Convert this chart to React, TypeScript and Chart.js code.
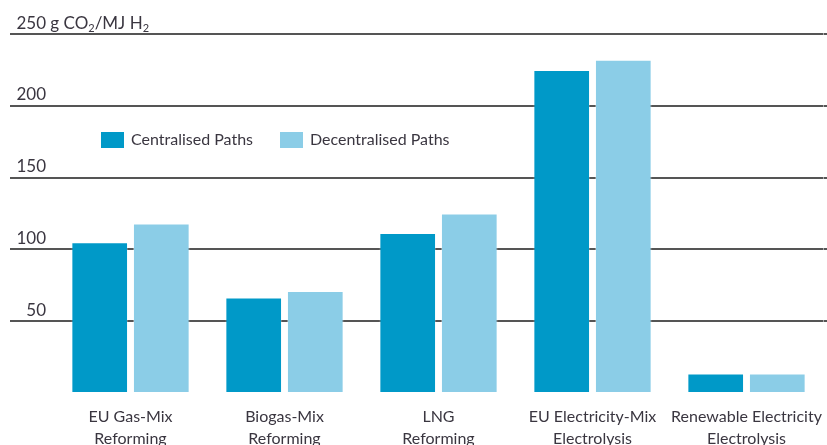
import React, { useEffect, useRef } from 'react';
import { Chart, registerables } from 'chart.js';

Chart.register(...registerables);

const categories: string[][] = [
  ['EU Gas-Mix', 'Reforming'],
  ['Biogas-Mix', 'Reforming'],
  ['LNG', 'Reforming'],
  ['EU Electricity-Mix', 'Electrolysis'],
  ['Renewable Electricity', 'Electrolysis'],
];
const seriesLabels = ['Centralised Paths', 'Decentralised Paths'];
const centralised = [105, 66.5, 111.5, 225, 13.5];
const decentralised = [118, 71, 125, 232, 13.5];
const yTickValues = [50, 100, 150, 200, 250];
const unitText = [
  { t: ' g CO', sub: false },
  { t: '2', sub: true },
  { t: '/MJ H', sub: false },
  { t: '2', sub: true },
];

const FONT = "Lato, 'Open Sans', sans-serif";
const TEXT = '#3a3640';
const DARK = '#0099c8';
const LIGHT = '#8bcde7';
const GRID = '#555555';

const labelsPlugin = {
  id: 'customLabels',
  afterDraw(chart: any) {
    const ctx = chart.ctx;
    const y = chart.scales.y;
    ctx.save();
    ctx.fillStyle = TEXT;
    ctx.textBaseline = 'alphabetic';
    yTickValues.forEach((v) => {
      const py = y.getPixelForValue(v) - 5.5;
      ctx.textAlign = 'right';
      ctx.font = `17px ${FONT}`;
      ctx.fillText(String(v), 46, py);
      if (v === yTickValues[yTickValues.length - 1]) {
        ctx.textAlign = 'left';
        let x = 46;
        unitText.forEach((part) => {
          ctx.font = part.sub ? `11px ${FONT}` : `17px ${FONT}`;
          ctx.fillText(part.t, x, part.sub ? py + 3 : py);
          x += ctx.measureText(part.t).width;
        });
      }
    });
    // legend
    const boxes = [101, 280];
    chart.data.datasets.forEach((ds: any, i: number) => {
      const bx = boxes[i];
      ctx.fillStyle = ds.backgroundColor;
      ctx.fillRect(bx, 132, 23, 16);
      ctx.fillStyle = TEXT;
      ctx.font = `16px ${FONT}`;
      ctx.textAlign = 'left';
      ctx.textBaseline = 'middle';
      ctx.fillText(ds.label, bx + 30, 140);
    });
    ctx.restore();
  },
};

export default function App() {
  const ref = useRef<HTMLCanvasElement | null>(null);
  useEffect(() => {
    document.body.style.margin = '0';
    if (!ref.current) return;
    const gridColor = (c: any) => (c.tick && c.tick.value === 0 ? 'rgba(0,0,0,0)' : GRID);
    const chart = new Chart(ref.current, {
      type: 'bar',
      data: {
        labels: categories,
        datasets: [
          {
            label: seriesLabels[0],
            data: centralised,
            backgroundColor: DARK,
            borderColor: 'rgba(255,255,255,0.25)',
            borderWidth: 1,
            categoryPercentage: 0.8,
            barPercentage: 0.92,
          },
          {
            label: seriesLabels[1],
            data: decentralised,
            backgroundColor: LIGHT,
            borderColor: 'rgba(255,255,255,0.35)',
            borderWidth: 1,
            categoryPercentage: 0.8,
            barPercentage: 0.92,
          },
        ],
      },
      options: {
        animation: false,
        responsive: false,
        maintainAspectRatio: false,
        layout: { padding: { left: 10, top: 34, right: 0, bottom: 0 } },
        plugins: { legend: { display: false }, tooltip: { enabled: false } },
        scales: {
          x: {
            grid: { display: false, drawTicks: false },
            border: { display: false },
            ticks: {
              font: { family: FONT, size: 16, lineHeight: 1.35 },
              color: TEXT,
              padding: 13,
              maxRotation: 0,
              autoSkip: false,
            },
            afterFit: (s: any) => {
              s.height = 52;
              s.paddingLeft = 0;
              s.paddingRight = 0;
            },
          },
          y: {
            position: 'left',
            min: 0,
            max: 250,
            ticks: { display: false, stepSize: 50 },
            grid: { color: gridColor, lineWidth: 2, tickLength: 43.5, drawTicks: true },
            border: { display: false },
            afterFit: (s: any) => {
              s.width = 43.5;
            },
          },
          y2: {
            position: 'right',
            min: 0,
            max: 250,
            ticks: { display: false, stepSize: 50 },
            grid: { color: gridColor, lineWidth: 2, tickLength: 3.5, drawTicks: true, drawOnChartArea: false },
            border: { display: false },
            afterFit: (s: any) => {
              s.width = 3.5;
            },
          },
        },
      },
      plugins: [labelsPlugin],
    });
    return () => chart.destroy();
  }, []);
  return (
    <div style={{ width: 827, height: 445 }}>
      <canvas ref={ref} width={827} height={445} style={{ display: 'block' }} />
    </div>
  );
}
